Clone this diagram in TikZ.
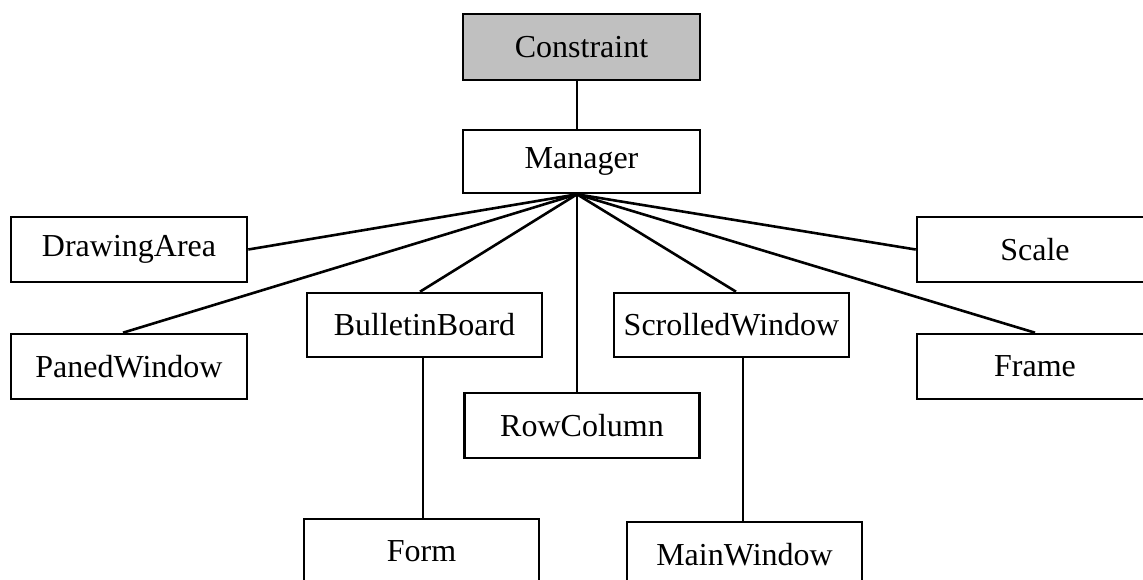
\documentclass[tikz,border=0pt]{standalone}
\usepackage{fontspec}
\setmainfont{Liberation Serif}
\usetikzlibrary{calc}
\begin{document}
\begin{tikzpicture}[x=1pt,y=-1pt,
  cls/.style={draw=black, line width=2.6pt, fill=white, minimum width=236pt, minimum height=65pt, inner sep=0pt, font=\fontsize{32}{38}\selectfont},
  root/.style={cls, fill=rootgrey},
  link/.style={draw=black, line width=2.6pt}]
\definecolor{rootgrey}{HTML}{C0C0C0}
\useasboundingbox (0,0) rectangle (1143,579);
\clip (0,0) rectangle (1143,579);
\fill[white] (0,0) rectangle (1143,579);
\node[root, minimum height=66pt, minimum width=237pt] (con) at (581.5,47) {Constraint};
\node[cls, minimum height=63pt, minimum width=237pt] (mgr) at (581.5,161.5) {Manager};
\node[cls] (da) at (129,249.5) {DrawingArea};
\node[cls] (pw) at (129,366.5) {PanedWindow};
\node[cls] (sc) at (1035,249.5) {Scale};
\node[cls] (fr) at (1035,366.5) {Frame};
\node[cls, minimum width=235pt, minimum height=64pt] (bb) at (424.5,325) {BulletinBoard};
\node[cls, minimum width=235pt] (rc) at (582,425.5) {RowColumn};
\node[cls, minimum width=235pt, minimum height=64pt] (sw) at (731.5,325) {ScrolledWindow};
\node[cls, minimum width=235pt] (fm) at (421.5,551.5) {Form};
\node[cls, minimum width=235pt] (mw) at (744.5,554.5) {MainWindow};
\coordinate (mb) at ($(mgr.south)+(-4.5,0)$);
\coordinate (bbs) at ($(bb.south)+(-1.5,0)$);
\coordinate (sws) at ($(sw.south)+(11.5,0)$);
\draw[link] ($(con.south)+(-4.5,0)$) -- ($(mgr.north)+(-4.5,0)$);
\draw[link] (mb) -- (da.east);
\draw[link] (mb) -- ($(pw.north)+(-6,0)$);
\draw[link] (mb) -- ($(bb.north)+(-4.5,0)$);
\draw[link] (mb) -- (mb |- rc.north);
\draw[link] (mb) -- ($(sw.north)+(4.5,0)$);
\draw[link] (mb) -- (fr.north);
\draw[link] (mb) -- (sc.west);
\draw[link] (bbs) -- (bbs |- fm.north);
\draw[link] (sws) -- (sws |- mw.north);
\end{tikzpicture}
\end{document}
